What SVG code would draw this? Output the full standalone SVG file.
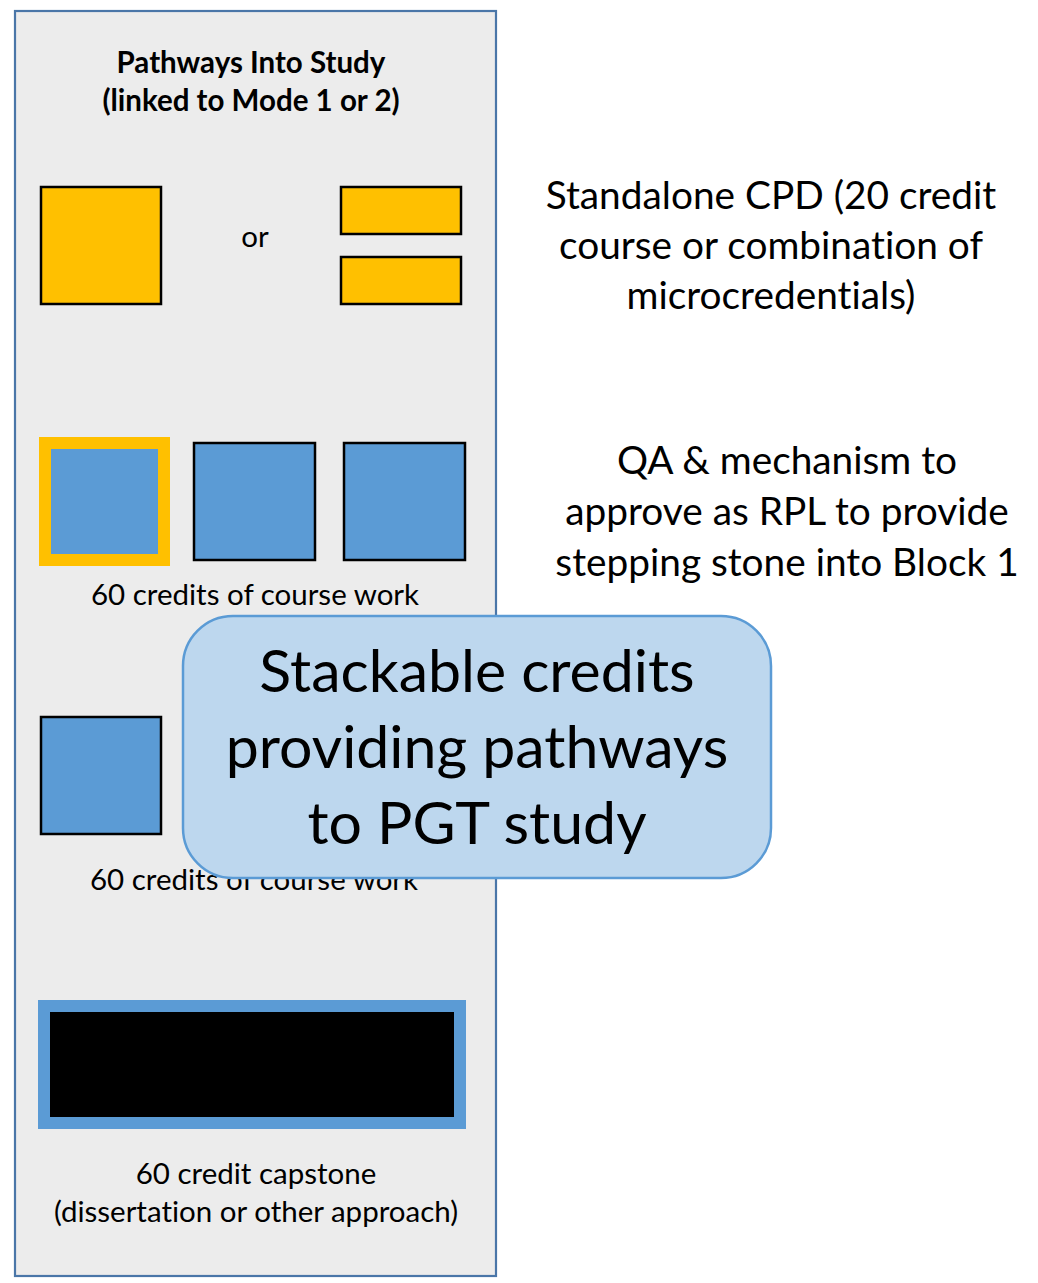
<svg xmlns="http://www.w3.org/2000/svg" width="1038" height="1283" viewBox="0 0 1038 1283">
  <style>
    text { font-family: Lato, "Open Sans", sans-serif; fill: #000; text-anchor: middle; font-variant-ligatures: none; }
    .title { font-size: 29.5px; font-weight: bold; }
    .small { font-size: 29.5px; }
    .side { font-size: 38.8px; }
    .call { font-size: 59px; }
    .gold { fill: #FFC000; stroke: #000; stroke-width: 2.5; }
    .blue { fill: #5B9BD5; stroke: #000; stroke-width: 2.5; }
  </style>
  <rect width="1038" height="1283" fill="#FFFFFF"/>

  <!-- left panel -->
  <g id="panel">
    <rect x="15" y="11" width="481" height="1265" fill="#ECECEC" stroke="#4A76A8" stroke-width="2.2"/>
    <text class="title" x="251" y="73">Pathways Into Study</text>
    <text class="title" x="251" y="111">(linked to Mode 1 or 2)</text>
  </g>

  <!-- standalone CPD options -->
  <g id="cpd-course">
    <rect class="gold" x="41" y="187" width="120" height="117"/>
  </g>
  <g id="cpd-or">
    <text class="small" x="255" y="247">or</text>
  </g>
  <g id="cpd-micro">
    <rect class="gold" x="341" y="187" width="120" height="47"/>
    <rect class="gold" x="341" y="257" width="120" height="47"/>
  </g>

  <!-- first block of course work -->
  <g id="block1">
    <rect x="45" y="443" width="119" height="117" fill="#5B9BD5" stroke="#FFC000" stroke-width="12"/>
    <rect class="blue" x="194" y="443" width="121" height="117"/>
    <rect class="blue" x="344" y="443" width="121" height="117"/>
    <text class="small" x="255" y="605">60 credits of course work</text>
  </g>

  <!-- second block of course work -->
  <g id="block2">
    <rect class="blue" x="41" y="717" width="120" height="117"/>
    <text class="small" x="254" y="890">60 credits of course work</text>
  </g>

  <!-- capstone -->
  <g id="capstone">
    <rect x="44" y="1006" width="416" height="117" fill="#000" stroke="#5B9BD5" stroke-width="12"/>
    <text class="small" x="256" y="1184">60 credit capstone</text>
    <text class="small" x="256" y="1222">(dissertation or other approach)</text>
  </g>

  <!-- side notes -->
  <g id="note-cpd">
    <text class="side" x="771" y="209">Standalone CPD (20 credit</text>
    <text class="side" x="771" y="259">course or combination of</text>
    <text class="side" x="771" y="309">microcredentials)</text>
  </g>
  <g id="note-qa">
    <text class="side" x="787" y="474">QA &amp; mechanism to</text>
    <text class="side" x="787" y="525">approve as RPL to provide</text>
    <text class="side" x="787" y="576">stepping stone into Block 1</text>
  </g>

  <!-- callout -->
  <g id="callout">
    <rect x="183" y="616" width="588" height="262" rx="50" ry="50" fill="#BDD7EE" stroke="#5B9BD5" stroke-width="2.5"/>
    <text class="call" x="477" y="692">Stackable credits</text>
    <text class="call" x="477" y="768">providing pathways</text>
    <text class="call" x="477" y="844">to PGT study</text>
  </g>

  <g id="connectors"></g>
</svg>
